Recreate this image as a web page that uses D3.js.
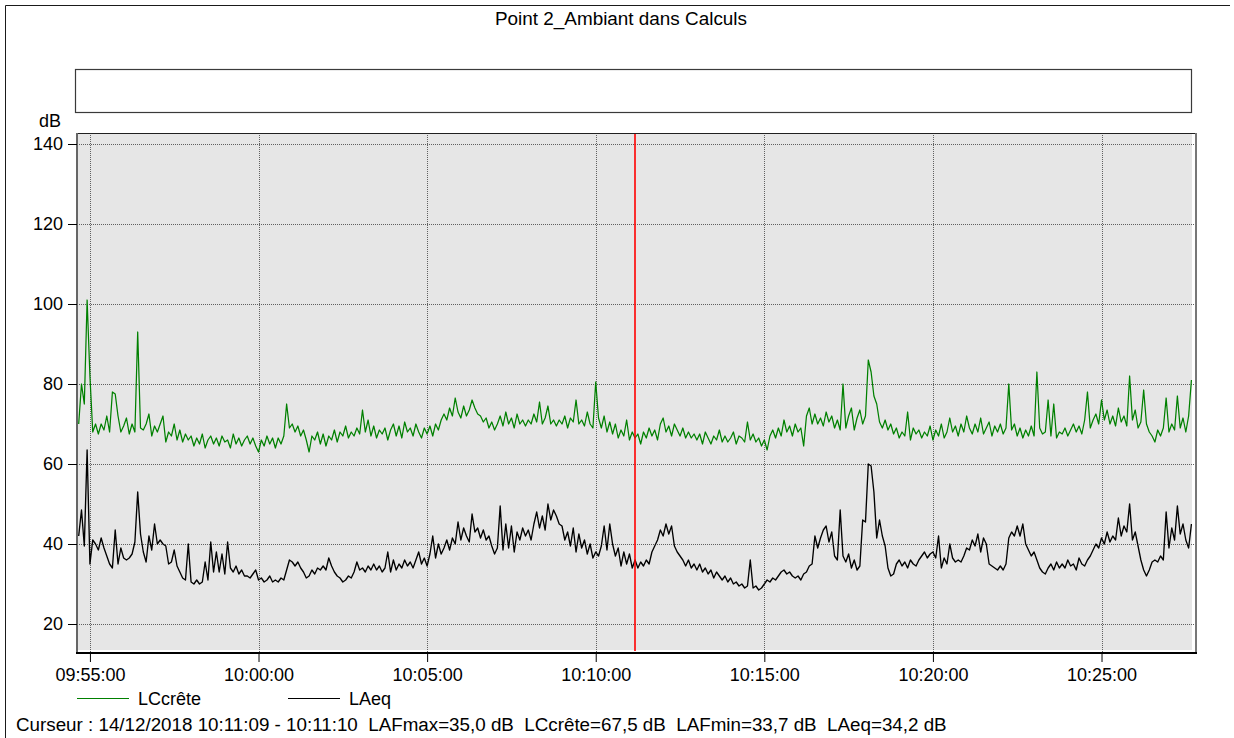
<!DOCTYPE html>
<html>
<head>
<meta charset="utf-8">
<script src="https://cdn.jsdelivr.net/npm/d3@7"></script>
<style>
  body { margin: 0; background: #fff; }
  svg { display: block; font-family: "Liberation Sans", Arial, sans-serif; }
  .grid line { stroke: #606060; stroke-width: 1; stroke-dasharray: 1,1; }
</style>
</head>
<body>
<div id="chart"></div>
<script>
// frame and plot box
const WIDTH = 1234, HEIGHT = 738;
const PLOT = {left: 77, right: 1192, top: 133, bottom: 652};
const FONT = 18;

// chart data: one value every 5 s from 09:54:40
const TITLE = "Point 2_Ambiant dans Calculs";
const START = new Date(2018, 11, 14, 9, 54, 40);
const STEP_S = 5;
const SERIES_NAMES = ["LCcrête", "LAeq"];
const SERIES_COLORS = ["#008000", "#000000"];
const Y_TICKS = [20, 40, 60, 80, 100, 120, 140];
const X_TICKS = ["09:55:00", "10:00:00", "10:05:00", "10:10:00", "10:15:00", "10:20:00", "10:25:00"];
const CURSOR_TIME = "10:11:09";
const CURSOR_TEXT = "Curseur : 14/12/2018 10:11:09 - 10:11:10  LAFmax=35,0 dB  LCcrête=67,5 dB  LAFmin=33,7 dB  LAeq=34,2 dB";

const lcCrete = [
  70, 80, 75, 101, 82, 68, 70, 67.5, 70, 68.5,
  72, 68, 78, 77.5, 72, 68, 69.5, 71.5, 67.5, 70,
  68, 93, 69, 68.5, 70, 72.5, 67, 69.5, 68, 70,
  72, 65.5, 68, 67, 70, 66, 68.5, 65.5, 67.5, 66,
  67, 64.5, 66.5, 65, 67.5, 64, 66, 67, 65, 66.5,
  64.5, 67, 65.5, 66, 64, 67.5, 65, 66.5, 64.5, 66,
  67, 65, 66.5, 64.5, 63, 66, 64.5, 67, 65, 66.5,
  64, 66.5, 65, 67, 75, 69, 70, 68, 69.5, 67,
  68.5, 66, 63, 67, 66, 68, 65, 67.5, 64.5, 67,
  66, 68.5, 65.5, 68, 67, 69.5, 66.5, 68, 67, 69,
  67.5, 73.5, 68, 71, 67, 69.5, 66.5, 68.5, 67.5, 69,
  66, 68.5, 70, 67, 69.5, 66.5, 70.5, 68, 69, 67,
  70, 68, 66.5, 69, 67.5, 69.5, 67, 70, 68.5, 71,
  72.5, 71, 74, 72, 76.5, 73, 71.5, 74.5, 72, 73.5,
  76, 74, 72.5, 72, 70.5, 71.5, 69, 70.5, 68.5, 70,
  72, 69.5, 73, 70, 71.5, 69, 72.5, 70, 71, 69.5,
  71, 70, 72.5, 70.5, 75.5, 70, 71.5, 74.5, 70, 71,
  69.5, 71, 70, 72, 69, 71.5, 70.5, 76, 70, 71,
  69.5, 73, 70, 69, 80.5, 71.5, 69, 72, 68, 70.5,
  67.5, 70, 66.5, 68.5, 67, 71, 66, 68, 66.5, 67.5,
  65, 68, 66.5, 69, 67, 68.5, 66, 70, 71.5, 68,
  69.5, 67, 70, 68.5, 67, 69, 66.5, 68, 66.5, 67.5,
  66, 67.5, 65, 68, 66.5, 65, 67, 66, 68.5, 65.5,
  67, 65.5, 66.5, 68, 65, 67, 66.5, 65.5, 70.5, 66,
  67.5, 65.5, 66.5, 64.5, 66, 63.5, 67, 68.5, 66.5, 69,
  67, 71, 68, 69.5, 67, 70, 68, 69, 64.5, 72,
  74, 70, 72.5, 70, 71.5, 69.5, 73, 70.5, 72, 69,
  71, 68.5, 80, 69, 72, 74, 68.5, 71.5, 73.5, 70,
  72, 86, 83, 77, 75, 70.5, 69, 71, 68.5, 70,
  67.5, 69, 66.5, 68, 67, 73, 66, 69, 67.5, 68.5,
  66.5, 68, 67, 69.5, 66, 68.5, 67, 70, 66.5, 68,
  71.5, 68, 69.5, 67, 70, 68, 72, 69, 67.5, 70,
  68, 71.5, 67.5, 69, 70.5, 67, 69.5, 68, 70, 67.5,
  69, 80, 68.5, 70, 67, 69, 66.5, 68.5, 67, 69.5,
  67, 83, 69, 67.5, 68, 76, 67, 75, 66.5, 68,
  67.5, 69, 67, 68.5, 70, 68, 69.5, 67.5, 71, 78,
  69, 71, 72.5, 70, 76, 71, 73.5, 70, 72, 69.5,
  74, 70.5, 72, 69.5, 82, 71, 73.5, 69, 70.5, 78.5,
  70, 68, 67, 65.5, 68.5, 67, 69, 76.5, 68, 70,
  68.5, 77, 69, 71.5, 68, 72, 81
];

const laeq = [
  42, 48.5, 39.5, 63.5, 35, 41, 40, 38.5, 41.5, 39,
  37, 35, 34, 43.5, 35, 39, 36.5, 36, 36.5, 37.5,
  40.5, 53, 42.5, 38, 35.5, 42, 38.5, 45, 40, 41,
  40, 39.5, 35, 35.5, 38.5, 34.5, 33, 31.5, 31, 40,
  30.5, 30, 31, 30, 30.5, 35.5, 31, 40.5, 33, 38,
  33, 37.5, 32.5, 40.5, 34, 33, 34.5, 32.5, 33.5, 32,
  32, 31.5, 32.5, 33.5, 31, 31.5, 30.5, 31, 32, 30.5,
  31, 30.5, 31.5, 31, 33.5, 36, 35.5, 34.5, 35.5, 34,
  33, 31.5, 32, 33.5, 32.5, 34, 33.5, 34.5, 33.5, 36.5,
  34.5, 33, 32, 31.5, 30.5, 31, 32, 31.5, 33, 35.5,
  33.5, 34, 33, 34.5, 33.5, 35, 33.5, 34.5, 33, 34,
  38, 33, 36, 33.5, 35, 34, 36, 34.5, 35.5, 34,
  36, 38, 35, 36.5, 34.5, 37.5, 42, 36.5, 40, 37.5,
  39, 41, 38.5, 41.5, 40, 45.5, 41, 44, 42, 40.5,
  47.5, 43, 44, 41.5, 43.5, 41, 42, 39.5, 37.5, 39,
  49.5, 38.5, 45, 39, 44.5, 38, 43, 41, 44, 42,
  43.5, 41, 45, 48, 44, 47, 43.5, 50, 46, 48.5,
  47, 45, 44.5, 41, 43, 39.5, 44, 38, 42.5, 39,
  41, 37.5, 40, 36.5, 38, 37, 39.5, 44.5, 38.5, 45,
  40, 37, 39, 34.5, 38, 35, 37.5, 34, 36, 34,
  35.5, 34.5, 36, 35, 38, 39.5, 41, 43.5, 42, 45,
  42.5, 44.5, 39.5, 38, 37, 36, 34.5, 36, 34, 35,
  33.5, 35, 33, 34, 32.5, 33.5, 31.5, 33, 32, 31,
  32, 30.5, 31.5, 30, 30.5, 29.5, 30, 29, 29.5, 36,
  29, 29.5, 28.5, 29, 30, 31, 30.5, 31.5, 31, 32,
  33, 33.5, 32.5, 33, 32, 31.5, 32, 31, 32.5, 33,
  34.5, 35, 42, 39, 41.5, 43.5, 44.5, 40.5, 43, 37,
  36, 48.5, 37, 35.5, 37.5, 34, 36, 33.5, 34.5, 46,
  45.5, 60, 59.5, 53, 41.5, 46, 42, 39.5, 34, 32,
  32.5, 35, 36, 34.5, 35.5, 34, 36, 35, 34.5, 36,
  37, 38, 36.5, 37.5, 38, 36.5, 42, 34, 36.5, 35,
  40, 36.5, 35.5, 36, 35.5, 37, 39, 38.5, 41, 39.5,
  42.5, 38, 41.5, 40, 35, 34.5, 34, 33.5, 34.5, 33.5,
  35, 41.5, 43, 42, 44.5, 42, 45, 40, 38.5, 37,
  38, 36, 34, 33, 32.5, 34, 35, 33.5, 35.5, 34,
  35, 34, 36, 34.5, 35, 33.5, 36.5, 35, 34.5, 36,
  37, 38.5, 40, 39, 41.5, 40, 43, 40.5, 42, 41,
  46.5, 42, 44.5, 43, 50, 41, 43, 39.5, 36, 33.5,
  32, 33.5, 35.5, 36, 35.5, 37, 36, 48, 39, 44,
  41, 49.5, 42.5, 45, 41, 39, 45
];

const parseT = d3.timeParse("%H:%M:%S");
function onDay(s) {
  const t = parseT(s);
  return new Date(2018, 11, 14, t.getHours(), t.getMinutes(), t.getSeconds());
}
const timeAt = (i) => new Date(START.getTime() + i * STEP_S * 1000);

// scales
const xScale = d3.scaleTime()
  .domain([new Date(2018, 11, 14, 9, 54, 37), new Date(2018, 11, 14, 10, 27, 41)])
  .range([PLOT.left, PLOT.right]);
const yScale = d3.scaleLinear()
  .domain([20, 140])
  .range([624, 144]);

const svg = d3.select("#chart").append("svg")
  .attr("width", WIDTH)
  .attr("height", HEIGHT)
  .style("font-size", FONT + "px");

// outer frame (top and left edges)
svg.append("path")
  .attr("d", "M5.5," + HEIGHT + "V5.5H1230")
  .attr("fill", "none")
  .attr("stroke", "#1a1a1a")
  .attr("stroke-width", 1);

svg.append("text")
  .attr("x", 621).attr("y", 25)
  .attr("text-anchor", "middle")
  .style("font-size", "18.9px")
  .text(TITLE);

// empty header box
svg.append("rect")
  .attr("x", 75.5).attr("y", 69.5)
  .attr("width", 1116).attr("height", 43)
  .attr("fill", "#fff")
  .attr("stroke", "#3a3a3a")
  .attr("stroke-width", 1.2);

// plot background
svg.append("rect")
  .attr("x", PLOT.left).attr("y", PLOT.top)
  .attr("width", PLOT.right - PLOT.left)
  .attr("height", PLOT.bottom - 2 - PLOT.top)
  .attr("fill", "#e6e6e6");

// grid
const grid = svg.append("g").attr("class", "grid");
grid.selectAll(".gy").data(Y_TICKS).enter().append("line")
  .attr("x1", PLOT.left).attr("x2", PLOT.right + 3)
  .attr("y1", (d) => yScale(d) + 0.5).attr("y2", (d) => yScale(d) + 0.5);
grid.selectAll(".gx").data(X_TICKS).enter().append("line")
  .attr("x1", (d) => Math.round(xScale(onDay(d))) + 0.5)
  .attr("x2", (d) => Math.round(xScale(onDay(d))) + 0.5)
  .attr("y1", PLOT.top).attr("y2", PLOT.bottom);

// plot border
svg.append("line")
  .attr("x1", PLOT.left).attr("x2", PLOT.right + 4)
  .attr("y1", PLOT.top + 0.5).attr("y2", PLOT.top + 0.5)
  .attr("stroke", "#202020").attr("stroke-width", 1);
svg.append("line")
  .attr("x1", PLOT.right + 4).attr("x2", PLOT.right + 4)
  .attr("y1", PLOT.top).attr("y2", PLOT.bottom)
  .attr("stroke", "#777").attr("stroke-width", 2);

// series
svg.append("clipPath").attr("id", "clip")
  .append("rect")
  .attr("x", PLOT.left).attr("y", PLOT.top)
  .attr("width", PLOT.right - PLOT.left).attr("height", PLOT.bottom - PLOT.top);

const line = d3.line()
  .x((d, i) => xScale(timeAt(i)))
  .y((d) => yScale(d));

[lcCrete, laeq].forEach((series, k) => {
  svg.append("path")
    .datum(series)
    .attr("clip-path", "url(#clip)")
    .attr("fill", "none")
    .attr("stroke", SERIES_COLORS[k])
    .attr("stroke-width", k === 0 ? 1.25 : 1.35)
    .attr("stroke-linejoin", "round")
    .attr("d", line);
});

// axes
const yAxis = svg.append("g")
  .attr("transform", "translate(" + PLOT.left + ",0)")
  .call(d3.axisLeft(yScale).tickValues(Y_TICKS).tickSize(9).tickPadding(5).tickSizeOuter(0));
yAxis.select(".domain").attr("d", "M0," + PLOT.top + "V" + (PLOT.bottom + 1))
  .attr("stroke", "#666").attr("stroke-width", 2);

const xAxis = svg.append("g")
  .attr("transform", "translate(0," + (PLOT.bottom + 1) + ")")
  .call(d3.axisBottom(xScale).tickValues(X_TICKS.map(onDay))
    .tickFormat(d3.timeFormat("%H:%M:%S")).tickSize(9).tickPadding(6).tickSizeOuter(0));
xAxis.select(".domain").attr("d", "M" + (PLOT.left - 1) + ",0H" + (PLOT.right + 5))
  .attr("stroke", "#000").attr("stroke-width", 2);

svg.selectAll(".tick text")
  .attr("fill", "#000")
  .style("font-size", FONT + "px")
  .style("font-family", "'Liberation Sans', Arial, sans-serif");
svg.selectAll(".tick line").attr("stroke", "#000");

// cursor, drawn last so nothing covers it
const cx = Math.round(xScale(onDay(CURSOR_TIME)));
svg.append("line")
  .attr("class", "cursor")
  .attr("x1", cx).attr("x2", cx)
  .attr("y1", PLOT.top + 1).attr("y2", PLOT.bottom - 1)
  .style("stroke", "#ff0000")
  .style("stroke-width", "1.6px");

svg.append("text")
  .attr("x", 39).attr("y", 127)
  .text("dB");

// legend
const legend = svg.append("g");
const LEG_X = [77, 288];
SERIES_NAMES.forEach((name, k) => {
  legend.append("line")
    .attr("x1", LEG_X[k]).attr("x2", LEG_X[k] + 52)
    .attr("y1", 698.5).attr("y2", 698.5)
    .attr("stroke", SERIES_COLORS[k]).attr("stroke-width", 1);
  legend.append("text")
    .attr("x", LEG_X[k] + 61).attr("y", 705)
    .text(name);
});

svg.append("text")
  .attr("x", 16).attr("y", 731)
  .attr("xml:space", "preserve")
  .style("white-space", "pre")
  .style("font-size", "18.8px")
  .text(CURSOR_TEXT);
</script>
</body>
</html>
